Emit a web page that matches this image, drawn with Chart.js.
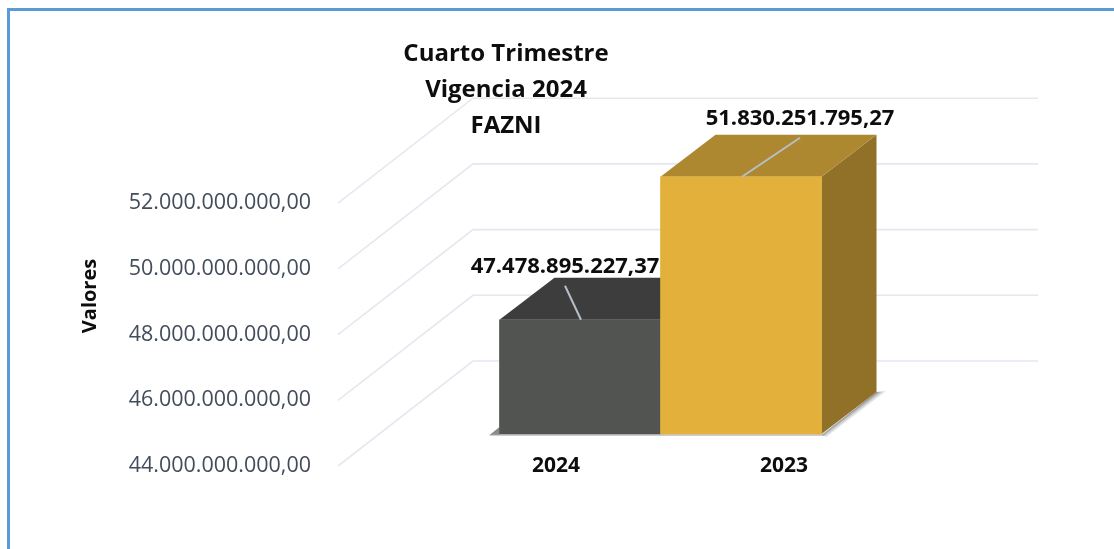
<!DOCTYPE html>
<html>
<head>
<meta charset="utf-8">
<script src="https://cdn.jsdelivr.net/npm/chart.js@4"></script>
<style>
html,body{margin:0;padding:0;background:#fff;overflow:hidden}
#wrap{position:relative;width:1114px;height:549px}
canvas{display:block}
#frame{position:absolute;left:7px;top:8px;right:0;bottom:0;border-left:3px solid #5b9bd5;border-top:3px solid #5b9bd5;pointer-events:none}
</style>
</head>
<body>
<div id="wrap"><canvas id="c" width="1114" height="549"></canvas><div id="frame"></div></div>
<script>
const categories = ['2024', '2023'];
const values = [47478895227.37, 51830251795.27];
const tickValues = [44e9, 46e9, 48e9, 50e9, 52e9];
const titleLines = ['Cuarto Trimestre', 'Vigencia 2024', 'FAZNI'];
const frontColors = ['#525452', '#e3b13b'];
const topColors = ['#3d3d3d', '#ad8830'];
const sideColors = ['#3a3a3a', '#917128'];

const fmt = v => v.toLocaleString('de-DE', {minimumFractionDigits: 2, maximumFractionDigits: 2});
const DEPTH_X = 55, DEPTH_Y = 42;
const WALL_FROM = 338, WALL_CORNER = 473, WALL_TO = 1038, WALL_RISE = 105;
const LABEL_OFFSET = [[-15, -53], [59, -58]];

const poly = (ctx, pts, fill) => {
  ctx.beginPath();
  pts.forEach((p, i) => i ? ctx.lineTo(p[0], p[1]) : ctx.moveTo(p[0], p[1]));
  ctx.closePath();
  ctx.fillStyle = fill;
  ctx.fill();
};

const box3d = {
  id: 'box3d',
  afterLayout(chart) {
    chart.titleBlock.left = 0;
    chart.titleBlock.right = 1012;
  },
  beforeDatasetsDraw(chart) {
    const ctx = chart.ctx, y = chart.scales.y;
    ctx.save();
    ctx.strokeStyle = '#e4e8ef';
    ctx.lineWidth = 1.6;
    tickValues.forEach(v => {
      const p = y.getPixelForValue(v);
      ctx.beginPath();
      ctx.moveTo(WALL_FROM, p);
      ctx.lineTo(WALL_CORNER, p - WALL_RISE);
      ctx.lineTo(WALL_TO, p - WALL_RISE);
      ctx.stroke();
    });
    const bars = chart.getDatasetMeta(0).data;
    // floor shadow
    const first = bars[0], last = bars[bars.length - 1];
    const bl = first.x - first.width / 2, br = last.x + last.width / 2, base = first.base;
    const mx = br + DEPTH_X / 2, my = base - DEPTH_Y / 2;
    const g = ctx.createLinearGradient(mx, my, mx + 4, my + 5.2);
    g.addColorStop(0, 'rgba(105,105,105,0.85)');
    g.addColorStop(1, 'rgba(225,225,225,0.15)');
    poly(ctx, [[br, base + 1], [br + DEPTH_X, base - DEPTH_Y], [br + DEPTH_X + 10, base - DEPTH_Y - 1], [br + 5, base + 3]], g);
    poly(ctx, [[bl - 10, base + 1], [bl, base - 7], [bl, base + 1]], '#8a8a8a');
    poly(ctx, [[bl - 8, base], [br + 1, base], [br + 2, base + 2], [bl - 10, base + 2]], 'rgba(170,170,170,0.6)');
    bars.forEach((b, i) => {
      const l = b.x - b.width / 2, r = b.x + b.width / 2;
      poly(ctx, [[r, b.y], [r + DEPTH_X, b.y - DEPTH_Y], [r + DEPTH_X, b.base - DEPTH_Y], [r, b.base]], sideColors[i]);
      poly(ctx, [[l, b.y], [l + DEPTH_X, b.y - DEPTH_Y], [r + DEPTH_X, b.y - DEPTH_Y], [r, b.y]], topColors[i]);
    });
    ctx.restore();
  },
  afterDatasetsDraw(chart) {
    const ctx = chart.ctx;
    const bars = chart.getDatasetMeta(0).data;
    ctx.save();
    ctx.textAlign = 'center';
    ctx.textBaseline = 'middle';
    ctx.font = 'bold 22px "Open Sans"';
    bars.forEach((b, i) => {
      const [dx, dy] = LABEL_OFFSET[i];
      const lx = b.x + dx, ly = b.y + dy;
      ctx.strokeStyle = '#b4bfca';
      ctx.lineWidth = 2;
      ctx.beginPath();
      ctx.moveTo(b.x + 1, b.y);
      ctx.lineTo(lx, ly + 19);
      ctx.stroke();
      ctx.fillStyle = '#0d0d0d';
      ctx.fillText(fmt(values[i]), lx, ly);
    });
    ctx.restore();
  }
};

new Chart(document.getElementById('c'), {
  type: 'bar',
  data: {
    labels: categories,
    datasets: [{
      label: 'Valores',
      data: values.map((v, i) => ({x: i + 1, y: v})),
      base: tickValues[0],
      backgroundColor: frontColors,
      borderWidth: 0,
      barPercentage: 1,
      categoryPercentage: 1,
      clip: false,
      xAxisID: 'xBars',
      yAxisID: 'yBars'
    }]
  },
  options: {
    responsive: false,
    animation: false,
    layout: {autoPadding: false, padding: {right: 216}},
    plugins: {
      legend: {display: false},
      tooltip: {enabled: false},
      title: {
        display: true,
        text: titleLines,
        color: '#0d0d0d',
        font: {family: '"Open Sans"', size: 24, weight: 'bold', lineHeight: 1.5},
        padding: {top: 36, bottom: -18}
      }
    },
    scales: {
      x: {
        type: 'category',
        labels: categories,
        position: 'bottom',
        grid: {display: false},
        border: {display: false},
        afterFit: s => { s.height = 83; },
        ticks: {
          color: '#0d0d0d',
          maxRotation: 0,
          mirror: true,
          padding: -13,
          font: {family: '"Open Sans"', size: 21, weight: 'bold'}
        }
      },
      xBars: {
        type: 'linear', display: false, offset: false, min: 0.143, max: 2.975,
        afterBuildTicks: s => { s.ticks = values.map((_, i) => ({value: i + 1})); }
      },
      y: {
        type: 'linear',
        position: 'left',
        min: 44e9,
        max: 54.35e9,
        grid: {display: false},
        border: {display: false},
        afterFit: s => { s.width = 442; s.paddingTop = 0; s.paddingBottom = 0; },
        afterBuildTicks: s => { s.ticks = tickValues.map(v => ({value: v})); },
        title: {
          display: true,
          text: 'Valores',
          color: '#0d0d0d',
          font: {family: '"Open Sans"', size: 20, weight: 'bold'},
          padding: {top: 78, bottom: 0}
        },
        ticks: {
          color: '#434c5b',
          padding: 123,
          callback: v => fmt(v),
          font: {family: '"Open Sans"', size: 21.5}
        }
      },
      yBars: {type: 'linear', display: false, min: 43.026e9, max: 53.376e9}
    }
  },
  plugins: [box3d]
});
</script>
</body>
</html>
